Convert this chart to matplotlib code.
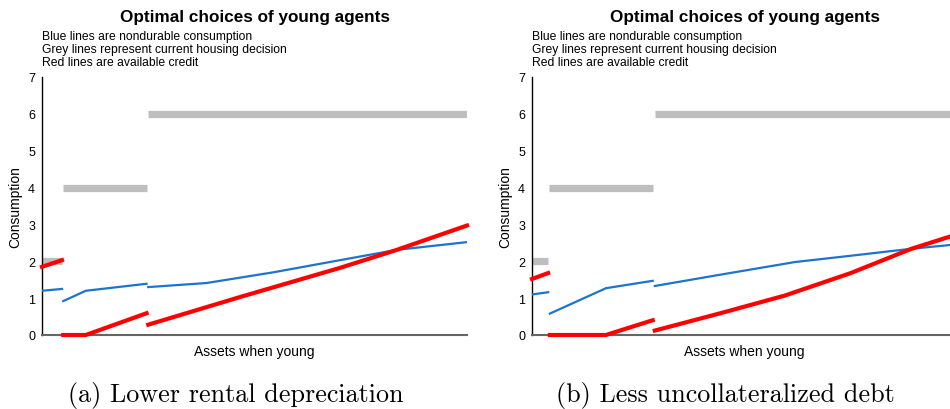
import numpy as np
import matplotlib.pyplot as plt

# Assets grid (arbitrary units, 0-100) and policy values
# Panel (a): lower rental depreciation
grey_a = [(0.0, 4.7, 2.0), (5.0, 24.6, 4.0), (25.0, 100.0, 6.0)]
blue_a = [([0.0, 4.7], [1.20, 1.25]),
          ([5.0, 10.3, 24.6], [0.92, 1.20, 1.39]),
          ([25.0, 38.7, 54.4, 70.1, 83.5, 100.0], [1.30, 1.41, 1.70, 2.03, 2.31, 2.52])]
red_a = [([0.0, 4.7], [1.85, 2.03]),
         ([5.0, 10.3, 24.6], [0.0, 0.0, 0.59]),
         ([25.0, 46.6, 70.1, 83.5, 100.0], [0.28, 1.03, 1.82, 2.31, 2.97])]

# Panel (b): less uncollateralized debt
grey_b = [(0.0, 3.8, 2.0), (4.0, 28.5, 4.0), (28.9, 100.0, 6.0)]
blue_b = [([0.0, 3.8], [1.10, 1.16]),
          ([4.2, 17.4, 28.4], [0.58, 1.27, 1.47]),
          ([28.9, 45.0, 61.9, 75.0, 89.3, 100.0], [1.33, 1.65, 1.98, 2.15, 2.34, 2.46])]
red_b = [([0.0, 3.8], [1.52, 1.68]),
         ([4.2, 17.4, 28.4], [0.0, 0.0, 0.40]),
         ([28.9, 44.0, 59.5, 75.0, 89.3, 100.0], [0.12, 0.58, 1.07, 1.68, 2.34, 2.73])]

captions = ["(a) Lower rental depreciation", "(b) Less uncollateralized debt"]
notes = ["Blue lines are nondurable consumption",
         "Grey lines represent current housing decision",
         "Red lines are available credit"]

plt.rcParams['font.family'] = ['Liberation Sans', 'DejaVu Sans']

fig = plt.figure(figsize=(9.5, 4.1), dpi=100)
W, H = 950.0, 410.0
ax_w, ax_h = 425.0, 258.0
bottom = (H - 336) / H

panels = [(42.0, grey_a, blue_a, red_a, captions[0]),
          (532.0, grey_b, blue_b, red_b, captions[1])]

for left, grey, blue, red, cap in panels:
    ax = fig.add_axes([left / W, bottom, ax_w / W, ax_h / H])

    for x0, x1, y in grey:
        ax.plot([x0, x1], [y, y], color='#bebebe', lw=5.2, solid_capstyle='butt')
    for xs, ys in blue:
        ax.plot(xs, ys, color='#1c74d0', lw=1.6, zorder=3)
    for xs, ys in red:
        # unclipped and on top so the part sitting on zero stays visible
        ax.plot(xs, ys, color='#ff0000', lw=3.0, zorder=4, clip_on=False)

    ax.set_xlim(0, 100)
    ax.set_ylim(0, 7)
    ax.set_yticks(range(8))
    ax.set_xticks([])
    ax.tick_params(axis='y', length=0, pad=5, labelsize=9)
    for s in ['top', 'right']:
        ax.spines[s].set_visible(False)
    ax.spines['left'].set_color('black')
    ax.spines['left'].set_linewidth(1.0)
    ax.spines['bottom'].set_color('#666666')
    ax.spines['bottom'].set_linewidth(1.5)

    ax.text(0.5, 1 + 60 / ax_h, "Optimal choices of young agents", transform=ax.transAxes,
            ha='center', va='center', fontsize=12.3, fontweight='bold')
    for i, line in enumerate(notes):
        ax.text(0.0, 1 + (41 - 13 * i) / ax_h, line, transform=ax.transAxes,
                ha='left', va='center', fontsize=8.75)

    ax.text(-27 / ax_w, 0.5, "Consumption", transform=ax.transAxes, rotation=90,
            ha='center', va='center', fontsize=10)
    ax.text(0.5, -16 / ax_h, "Assets when young", transform=ax.transAxes,
            ha='center', va='center', fontsize=10)
    ax.text(0.456, -60 / ax_h, cap, transform=ax.transAxes,
            ha='center', va='center', fontsize=18.8, family='cmr10')

fig.savefig("out.png", dpi=100)
